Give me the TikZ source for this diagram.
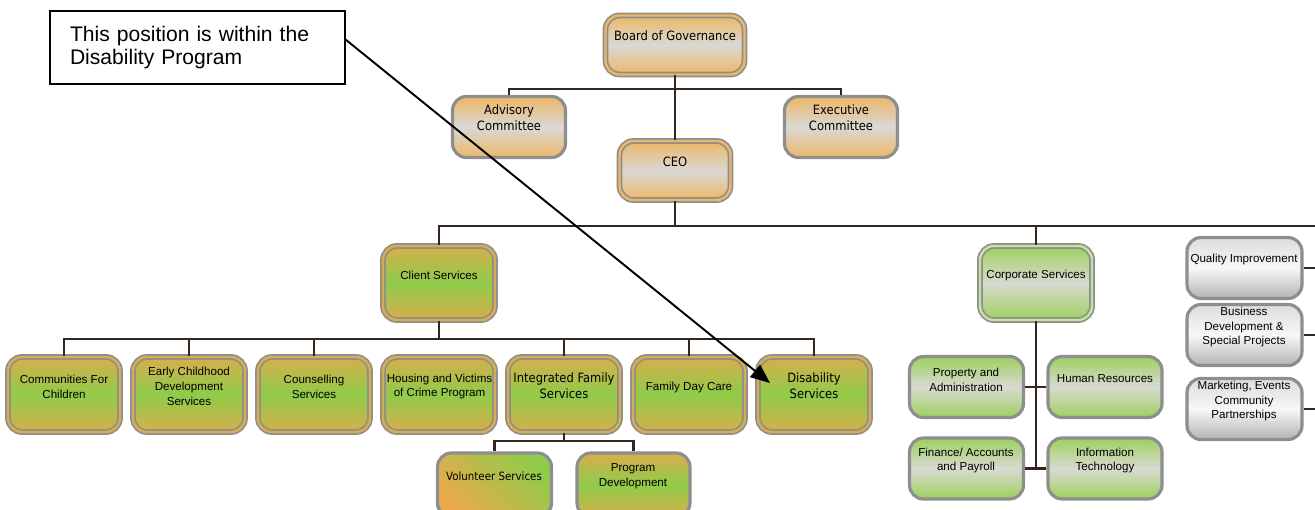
\documentclass[tikz,border=0pt]{standalone}
\usepackage{fontspec}
\setmainfont{Liberation Sans}
\newfontfamily\vf{DejaVu Sans Condensed}
\usetikzlibrary{arrows.meta}
\definecolor{bgray}{HTML}{8E8E8E}
\definecolor{lnc}{HTML}{33261F}
\definecolor{orA}{HTML}{ECB766}
\definecolor{grM}{HTML}{DAD8D5}
\definecolor{mus}{HTML}{D8AE4C}
\definecolor{grn}{HTML}{8FCB4A}
\definecolor{grC}{HTML}{9DD05E}
\definecolor{gyC}{HTML}{D8DAD2}
\definecolor{gyT}{HTML}{DCDCDC}
\definecolor{gyB}{HTML}{B3B3B3}
\definecolor{orV}{HTML}{EBA94A}
\begin{document}
\begin{tikzpicture}[x=0.02cm,y=-0.02cm,
  sz/.style 2 args={minimum width=#1*0.02cm, minimum height=#2*0.02cm},
  base/.style={rectangle, rounded corners=0.28cm, inner sep=0pt},
  dbl/.style={base, draw=bgray, line width=0.95pt, double=#1, double distance=1.4pt},
  sgl/.style={base, draw=bgray, line width=1.8pt},
  shOGO/.style={top color=orA, bottom color=orA, middle color=grM},
  shMGM/.style={top color=mus, bottom color=mus, middle color=grn},
  shGCG/.style={top color=grC, bottom color=grC, middle color=gyC},
  shGY/.style={top color=gyT, bottom color=gyB, middle color=white!97!black},
  lvl3/.style={dbl=mus, shMGM, sz={112}{75}},
  corpsub/.style={sgl, shGCG, sz={114}{61}},
  grbox/.style={sgl, shGY, sz={115}{61}},
  txt/.style={align=center, font=\fontsize{6.6}{8.5}\selectfont, inner sep=0pt},
  vtxt/.style={align=center, font=\vf\fontsize{7.3}{9.2}\selectfont, inner sep=0pt},
  con/.style={draw=lnc, line width=1.6pt}
]
\useasboundingbox (0,0) rectangle (1315,510);
\clip (0,0) rectangle (1315,510);

\coordinate (b1) at (675,89);
\coordinate (b2) at (675,226);
\coordinate (r2) at (1315,226);
\coordinate (b3) at (439,339);
\coordinate (b4) at (564,441);
\coordinate (b5) at (1036,468.5);
\coordinate (redge) at (1315,300);

% top level
\node[dbl=orA, shOGO, sz={139}{59}] (board) at (675,45) {};
\node[sgl, shOGO, sz={113}{61}] (adv) at (509,127) {};
\node[sgl, shOGO, sz={113}{61}] (exe) at (841,127) {};
\node[dbl=orA, shOGO, sz={111}{59}] (ceo) at (675,170.5) {};

% level 2
\node[dbl=mus, shMGM, sz={112}{74}] (cls) at (439,283) {};
\node[dbl={grC!60!white}, shGCG, sz={112}{74}] (corp) at (1036,283) {};

% level 3 client
\node[lvl3] (c1) at (64,394.5) {};
\node[lvl3] (c2) at (189,394.5) {};
\node[lvl3] (c3) at (314,394.5) {};
\node[lvl3] (c4) at (439,394.5) {};
\node[lvl3] (c5) at (564,394.5) {};
\node[lvl3] (c6) at (689,394.5) {};
\node[lvl3] (c7) at (814,394.5) {};

% level 4
\node[sgl, top color=grn, bottom color=orV, shading angle=-45, sz={114}{64}] (vol) at (494.5,485) {};
\node[sgl, shMGM, sz={113}{64}] (pd) at (633.5,485) {};

% corporate subs
\node[corpsub] (prop) at (966.5,387) {};
\node[corpsub] (hr) at (1105,387) {};
\node[corpsub] (fin) at (966.5,468.5) {};
\node[corpsub] (it) at (1105,468.5) {};

% right gray boxes
\node[grbox] (qi) at (1244.5,268) {};
\node[grbox] (bd) at (1244.5,335) {};
\node[grbox] (mk) at (1244.5,409) {};

% texts
\node[vtxt] (tboard) at (675,36) {Board of Governance};
\node[vtxt] (tadv) at (509,118) {Advisory\\Committee};
\node[vtxt] (texe) at (841,118) {Executive\\Committee};
\node[vtxt] (tceo) at (675,162) {CEO};
\node[txt] (tcls) at (439,275) {Client Services};
\node[txt] (tc1) at (64,386.5) {Communities For\\Children};
\node[txt] (tc2) at (189,386.5) {Early Childhood\\Development\\Services};
\node[txt] (tc3) at (314,386.5) {Counselling\\Services};
\node[txt] (tc4) at (439.5,386.5) {Housing and Victims\\of Crime Program};
\node[vtxt] (tc5) at (564,385.5) {Integrated Family\\Services};
\node[txt] (tc6) at (689,387) {Family Day Care};
\node[vtxt] (tc7) at (814,385.5) {Disability\\Services};
\node[vtxt, font=\vf\fontsize{6.5}{8.5}\selectfont] (tvol) at (494,476) {Volunteer Services};
\node[txt] (tpd) at (633,476) {Program\\Development};
\node[txt] (tcorp) at (1036,275) {Corporate Services};
\node[txt] (tprop) at (966,379.5) {Property and\\Administration};
\node[txt] (thr) at (1105,379) {Human Resources};
\node[txt] (tfin) at (966,460.5) {Finance/ Accounts\\and Payroll};
\node[txt] (tit) at (1105,460.5) {Information\\Technology};
\node[txt] (tqi) at (1244,260) {Quality Improvement};
\node[txt] (tbd) at (1244,327) {Business\\Development \&\\Special Projects};
\node[txt] (tmk) at (1244,401) {Marketing, Events\\Community\\Partnerships};

\draw[con] (board.south) -- (ceo.north);
\draw[con] (adv.north) |- (b1) -| (exe.north);
\draw[con] (ceo.south) -- (b2);
\draw[con] (cls.north) |- (r2);
\draw[con] (corp.north) -- (corp.north |- b2);
\draw[con] (cls.south) -- (b3);
\draw[con] (c1.north) |- (b3) -| (c7.north);
\foreach \n in {c2,c3,c5,c6} \draw[con] (\n.north) -- (\n.north |- b3);
\draw[con] (c5.south) -- (b4);
\draw[con] (vol.north) |- (b4) -| (pd.north);
\draw[con] (corp.south) -- (b5);
\draw[con] (prop.east) -- (hr.west);
\draw[con] (fin.east) -- (it.west);
\draw[con] (qi.east) -- (qi.east -| redge);
\draw[con] (bd.east) -- (bd.east -| redge);
\draw[con] (mk.east) -- (mk.east -| redge);

% callout
\node[draw=black, line width=0.9pt, fill=white, sz={295}{73}, text width=5.1cm, align=left, inner sep=0pt, font=\fontsize{12}{13.6}\selectfont] (call) at (197.5,47.5) {This position is within the\\Disability Program};
\coordinate (tip) at (770,383);
\draw[line width=1.1pt, -{Triangle[length=11pt, width=9pt]}] (call.3) -- (tip);
\end{tikzpicture}
\end{document}
